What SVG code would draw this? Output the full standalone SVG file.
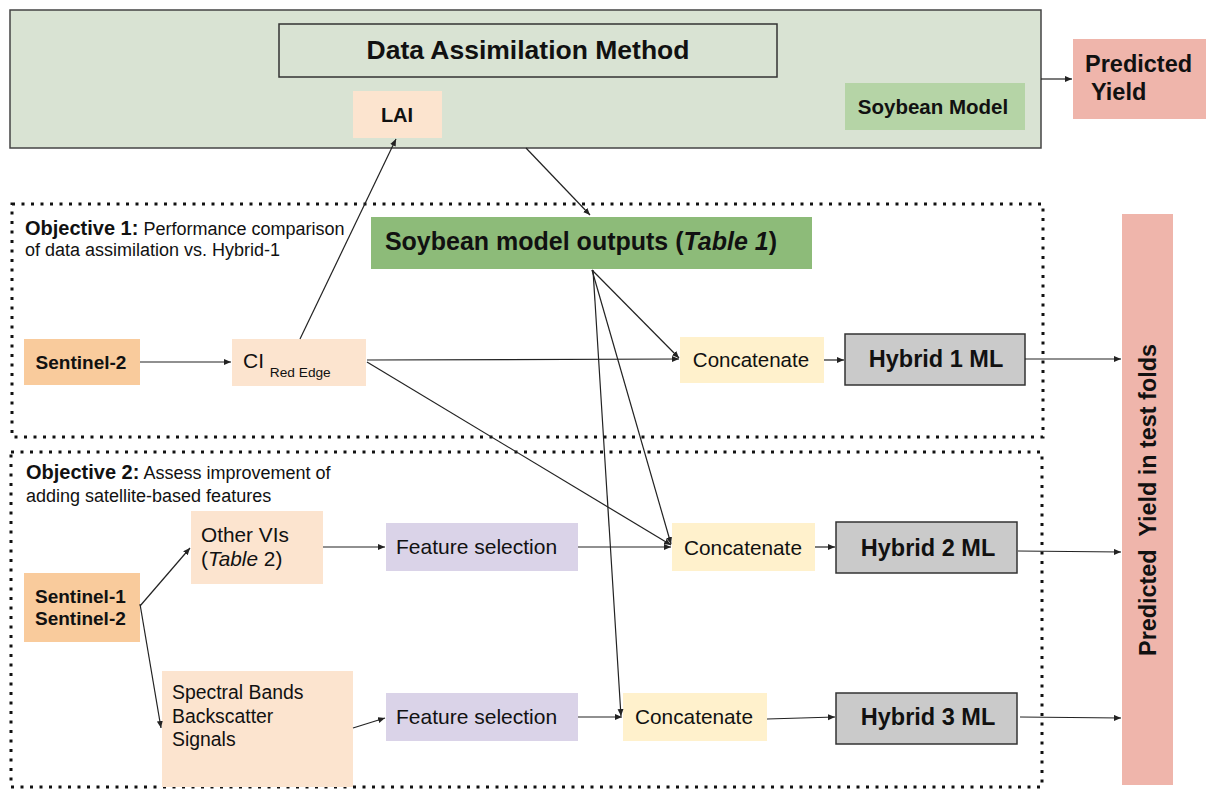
<svg xmlns="http://www.w3.org/2000/svg" width="1218" height="789" viewBox="0 0 1218 789">
<style>
text{font-family:"Liberation Sans",Arial,sans-serif;fill:#111}
.b{font-weight:bold}
.c{text-anchor:middle}
.dot{fill:none;stroke:#111;stroke-width:3;stroke-dasharray:3 6.5}
.ln{fill:none;stroke:#222;stroke-width:1.2;marker-end:url(#ah)}
.peach{fill:#fce4cf}
.orange{fill:#f9cb9c}
.conc{fill:#fff1cc}
.fs{fill:#dad3e8}
.hyb{fill:#cacaca;stroke:#333;stroke-width:1.5}
.py{fill:#efb5ab}
</style>
<defs>
<marker id="ah" markerUnits="userSpaceOnUse" markerWidth="8" markerHeight="7" refX="7" refY="3" orient="auto">
<path d="M0,0 L7,3 L0,6 z" fill="#222"/>
</marker>
</defs>
<rect width="1218" height="789" fill="#fff"/>
<g id="objective1-frame">
<rect class="dot" x="12" y="204" width="1031" height="233"/>
<text x="25" y="235"><tspan class="b" font-size="20">Objective 1:</tspan><tspan font-size="18"> Performance comparison</tspan></text>
<text x="25" y="256" font-size="18">of data assimilation vs. Hybrid-1</text>
</g>
<g id="objective2-frame">
<rect class="dot" x="11" y="452" width="1031" height="335"/>
<text x="26" y="479"><tspan class="b" font-size="20">Objective 2:</tspan><tspan font-size="18"> Assess improvement of</tspan></text>
<text x="26" y="502" font-size="18">adding satellite-based features</text>
</g>
<g id="data-assimilation">
<rect x="10" y="10" width="1031" height="138" fill="#d9e3d3" stroke="#444" stroke-width="1.5"/>
<rect x="279" y="24" width="498" height="53" fill="none" stroke="#333" stroke-width="1.5"/>
<text class="b c" x="528" y="59" font-size="26.5">Data Assimilation Method</text>
</g>
<g id="lai">
<rect class="peach" x="353" y="91" width="89" height="47"/>
<text class="b c" x="397" y="122" font-size="20">LAI</text>
</g>
<g id="soybean-model">
<rect x="845" y="83" width="180" height="47" fill="#b5d4a6"/>
<text class="b c" x="933" y="114" font-size="20.5">Soybean Model</text>
</g>
<g id="predicted-yield">
<rect class="py" x="1073" y="39" width="133" height="80"/>
<text class="b" x="1085" y="72" font-size="23.5">Predicted</text>
<text class="b" x="1091" y="100" font-size="23.5">Yield</text>
</g>
<g id="soybean-outputs">
<rect x="371" y="217" width="441" height="52" fill="#8dbb79"/>
<text class="b c" x="581" y="250" font-size="25">Soybean model outputs (<tspan font-style="italic">Table 1</tspan>)</text>
</g>
<g id="sentinel2">
<rect class="orange" x="24" y="339" width="116" height="46"/>
<text class="b c" x="81" y="369" font-size="19">Sentinel-2</text>
</g>
<g id="ci-red-edge">
<rect class="peach" x="232" y="339" width="134" height="47"/>
<text x="243" y="368" font-size="21">CI <tspan font-size="13.7" dy="9">Red Edge</tspan></text>
</g>
<g id="concatenate1">
<rect class="conc" x="680" y="337" width="144" height="46"/>
<text class="c" x="751" y="367" font-size="20.5">Concatenate</text>
</g>
<g id="hybrid1">
<rect class="hyb" x="845" y="334" width="180" height="51"/>
<text class="b c" x="936" y="367" font-size="23.5">Hybrid 1 ML</text>
</g>
<g id="predicted-yield-test-folds">
<rect class="py" x="1122" y="214" width="51" height="571"/>
<text class="b c" transform="translate(1156,500) rotate(-90)" font-size="23.4" style="white-space:pre">Predicted  Yield in test folds</text>
</g>
<g id="sentinel12">
<rect class="orange" x="24" y="573" width="116" height="69"/>
<text class="b" x="35" y="603" font-size="19">Sentinel-1</text>
<text class="b" x="35" y="625" font-size="19">Sentinel-2</text>
</g>
<g id="other-vis">
<rect class="peach" x="191" y="511" width="132" height="73"/>
<text x="201" y="542" font-size="20.8">Other VIs</text>
<text x="201" y="566" font-size="20.8">(<tspan font-style="italic">Table</tspan> 2)</text>
</g>
<g id="spectral">
<rect class="peach" x="162" y="671" width="191" height="116"/>
<text x="172" y="699" font-size="19.4">Spectral Bands</text>
<text x="172" y="723" font-size="19.4">Backscatter</text>
<text x="172" y="746" font-size="19.4">Signals</text>
</g>
<g id="feature-selection1">
<rect class="fs" x="386" y="523" width="192" height="48"/>
<text x="396" y="554" font-size="21">Feature selection</text>
</g>
<g id="feature-selection2">
<rect class="fs" x="386" y="693" width="192" height="48"/>
<text x="396" y="724" font-size="21">Feature selection</text>
</g>
<g id="concatenate2">
<rect class="conc" x="672" y="523" width="143" height="48"/>
<text class="c" x="743" y="555" font-size="20.8">Concatenate</text>
</g>
<g id="hybrid2">
<rect class="hyb" x="836" y="522" width="181" height="51"/>
<text class="b c" x="928" y="556" font-size="23.5">Hybrid 2 ML</text>
</g>
<g id="concatenate3">
<rect class="conc" x="623" y="693" width="144" height="48"/>
<text class="c" x="694" y="724" font-size="20.8">Concatenate</text>
</g>
<g id="hybrid3">
<rect class="hyb" x="836" y="693" width="181" height="51"/>
<text class="b c" x="928" y="725" font-size="23.5">Hybrid 3 ML</text>
</g>
<g id="connectors">
<line class="ln" x1="1041" y1="79" x2="1072" y2="79"/>
<line class="ln" x1="300" y1="339" x2="396" y2="139"/>
<line class="ln" x1="526" y1="148" x2="590" y2="215"/>
<line class="ln" x1="140" y1="362" x2="231" y2="362"/>
<line class="ln" x1="367" y1="360" x2="679" y2="359"/>
<line class="ln" x1="367" y1="362" x2="671" y2="545"/>
<line class="ln" x1="592" y1="270" x2="679" y2="358"/>
<line class="ln" x1="592" y1="270" x2="671" y2="544"/>
<line class="ln" x1="593" y1="270" x2="621" y2="716"/>
<line class="ln" x1="824" y1="360" x2="844" y2="360"/>
<line class="ln" x1="1025" y1="359" x2="1121" y2="359"/>
<line class="ln" x1="140" y1="606" x2="190" y2="548"/>
<line class="ln" x1="140" y1="604" x2="161" y2="728"/>
<line class="ln" x1="323" y1="547" x2="385" y2="547"/>
<line class="ln" x1="353" y1="728" x2="385" y2="718"/>
<line class="ln" x1="578" y1="547" x2="671" y2="547"/>
<line class="ln" x1="578" y1="717" x2="622" y2="717"/>
<line class="ln" x1="815" y1="547" x2="835" y2="547"/>
<line class="ln" x1="767" y1="719" x2="835" y2="717"/>
<line class="ln" x1="1018" y1="551" x2="1121" y2="552"/>
<line class="ln" x1="1020" y1="717" x2="1121" y2="718"/>
</g>
</svg>
